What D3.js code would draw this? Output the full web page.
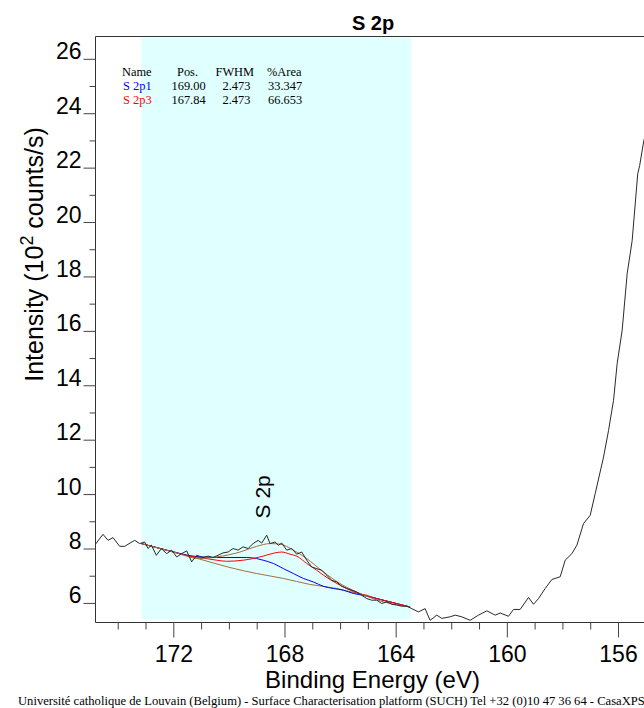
<!DOCTYPE html>
<html>
<head>
<meta charset="utf-8">
<script src="https://cdn.jsdelivr.net/npm/d3@7/dist/d3.min.js"></script>
<style>
  html, body { margin: 0; padding: 0; background: #fff; }
  svg { display: block; }
</style>
</head>
<body>
<script>
// ---------------- DATA ----------------
const title = "S 2p";
const xLabel = "Binding Energy (eV)";
const footer = "Université catholique de Louvain (Belgium) - Surface Characterisation platform (SUCH) Tel +32 (0)10 47 36 64 - CasaXPS";

const xMajorTicks = [172, 168, 164, 160, 156];
const xMinorTicks = [174, 173, 171, 170, 169, 167, 166, 165, 163, 162, 161, 159, 158, 157];
const yMajorTicks = [6, 8, 10, 12, 14, 16, 18, 20, 22, 24, 26];
const yMinorTicks = [7, 9, 11, 13, 15, 17, 19, 21, 23, 25];

const regionRange = [173.15, 163.44];

// measured spectrum (binding energy, eV) and intensity (10^2 counts/s)
const spectrumE = [174.83,174.53,174.35,174.17,173.93,173.75,173.39,173.21,173.03,172.91,172.79,172.61,172.43,172.24,172.06,171.88,171.70,171.52,171.34,171.16,170.93,170.75,170.57,170.39,170.21,170.03,169.85,169.67,169.49,169.31,169.13,168.95,168.82,168.64,168.52,168.34,168.22,168.10,167.92,167.74,167.56,167.38,167.20,167.02,166.84,166.66,166.48,166.30,166.12,165.94,165.76,165.58,165.40,165.22,165.04,164.86,164.68,164.50,164.32,164.14,163.96,163.78,163.60,163.42,163.18,162.94,162.76,162.52,162.34,162.04,161.86,161.62,161.32,161.02,160.72,160.42,160.24,159.94,159.76,159.52,159.22,159.04,158.86,158.62,158.38,158.08,157.90,157.66,157.48,157.24,157.00,156.82,156.52,156.34,156.16,156.03,155.85,155.67,155.49,155.29,155.22,155.08,154.95];
const spectrumI = [8.12,8.52,8.30,8.40,8.08,8.08,8.30,8.18,8.24,8.00,8.12,7.75,8.00,7.81,7.94,7.69,7.81,7.91,7.51,7.75,7.67,7.72,7.67,7.75,7.84,7.87,8.00,7.94,8.06,8.00,8.18,8.30,8.20,8.49,8.18,8.24,8.12,8.20,7.94,8.00,7.79,7.87,7.57,7.32,7.26,7.20,7.02,6.83,6.77,6.61,6.53,6.47,6.40,6.28,6.16,6.10,6.10,5.98,6.04,5.95,5.92,5.88,5.88,5.79,5.67,5.79,5.36,5.55,5.43,5.49,5.55,5.49,5.36,5.55,5.71,5.55,5.63,5.51,5.76,5.76,6.20,5.95,6.16,6.53,6.86,6.96,7.57,7.81,8.12,8.92,9.22,10.02,11.36,12.34,13.45,14.80,16.02,18.10,19.32,21.77,22.08,22.94,23.5];

// background
const backgroundE = [173.15,172.00,171.05,169.96,169.00,168.04,167.09,166.12,165.40,164.68,163.48];
const backgroundI = [8.18,7.87,7.61,7.30,7.08,6.90,6.68,6.53,6.35,6.16,5.85];

// envelope
const envelopeE = [173.15,172.00,171.05,170.44,169.60,169.00,168.52,168.16,167.68,167.20,166.60,166.00,165.40,164.44,163.48];
const envelopeI = [8.18,7.87,7.63,7.69,7.87,8.08,8.18,8.16,7.94,7.63,7.14,6.71,6.40,6.04,5.85];

// S 2p1 component (blue)
const s2p1E = [173.15,172.00,171.65,171.29,170.93,170.44,169.96,169.36,169.00,168.77,168.40,168.04,167.68,167.32,166.96,166.60,166.24,165.89,165.53,165.17,164.68,163.48];
const s2p1I = [8.18,7.88,7.79,7.72,7.69,7.67,7.67,7.67,7.63,7.57,7.45,7.26,7.08,6.90,6.77,6.61,6.53,6.47,6.35,6.28,6.16,5.85];

// S 2p3 component (red)
const s2p3E = [173.15,172.00,171.41,171.05,170.44,170.08,169.49,169.13,168.77,168.34,168.10,167.80,167.56,167.20,166.84,166.60,166.36,166.00,165.64,165.40,165.04,164.68,164.32,163.48];
const s2p3I = [8.18,7.87,7.72,7.67,7.57,7.53,7.57,7.63,7.72,7.84,7.87,7.79,7.72,7.45,7.20,7.02,6.86,6.65,6.47,6.37,6.28,6.16,6.07,5.85];

const tableHeader = ["Name", "Pos.", "FWHM", "%Area"];
const tableNames = ["S 2p1", "S 2p3"];
const tablePos = ["169.00", "167.84"];
const tableFWHM = ["2.473", "2.473"];
const tableArea = ["33.347", "66.653"];
const tableColors = ["#0000ff", "#ff0000"];

const peakLabel = "S 2p";
const peakLabelE = 168.46;
const peakLabelI = 9.9;

// ---------------- CHART ----------------
const W = 644, H = 708;
const L = 95.5, T = 36.5, R = 644, B = 622.5;

const svg = d3.select("body").append("svg").attr("width", W).attr("height", H);

const x = d3.scaleLinear().domain([174.8, 155.05]).range([L, R + 0.4]);
const y = d3.scaleLinear().domain([5.28, 26.82]).range([B, T]);

svg.append("defs").append("clipPath").attr("id", "clip")
  .append("rect").attr("x", L).attr("y", T).attr("width", R - L).attr("height", B - T);

const plot = svg.append("g").attr("clip-path", "url(#clip)");

// region
plot.append("rect")
  .attr("x", x(regionRange[0])).attr("y", T + 1)
  .attr("width", x(regionRange[1]) - x(regionRange[0]))
  .attr("height", B - T - 4)
  .attr("fill", "#e0ffff");

const mk = (E, I) => E.map((e, i) => [e, I[i]]);
const smooth = d3.line().x(d => x(d[0])).y(d => y(d[1])).curve(d3.curveMonotoneX);
const straight = d3.line().x(d => x(d[0])).y(d => y(d[1]));

plot.append("path").datum(mk(backgroundE, backgroundI)).attr("d", smooth)
  .attr("fill", "none").attr("stroke", "#a0703c").attr("stroke-width", 1);
plot.append("path").datum(mk(s2p1E, s2p1I)).attr("d", smooth)
  .attr("fill", "none").attr("stroke", "#0000ff").attr("stroke-width", 1);
plot.append("path").datum(mk(s2p3E, s2p3I)).attr("d", smooth)
  .attr("fill", "none").attr("stroke", "#ff0000").attr("stroke-width", 1);
plot.append("path").datum(mk(envelopeE, envelopeI)).attr("d", smooth)
  .attr("fill", "none").attr("stroke", "#a0703c").attr("stroke-width", 1);
plot.append("path").datum(mk(spectrumE, spectrumI)).attr("d", straight)
  .attr("fill", "none").attr("stroke", "#2a2a2a").attr("stroke-width", 1);

// frame
svg.append("line").attr("x1", L).attr("x2", L).attr("y1", T).attr("y2", B).attr("stroke", "#333");
svg.append("line").attr("x1", L).attr("x2", R).attr("y1", T).attr("y2", T).attr("stroke", "#333");
svg.append("line").attr("x1", L).attr("x2", R).attr("y1", B).attr("y2", B).attr("stroke", "#333");

// axes
const font = "'Liberation Sans', Arial, sans-serif";
const xMajor = svg.append("g").attr("transform", `translate(0,${B})`)
  .call(d3.axisBottom(x).tickValues(xMajorTicks).tickSize(15).tickPadding(8).tickFormat(d3.format("d")));
const xMinor = svg.append("g").attr("transform", `translate(0,${B})`)
  .call(d3.axisBottom(x).tickValues(xMinorTicks).tickSize(7).tickFormat(""));
const yMajor = svg.append("g").attr("transform", `translate(${L},0)`)
  .call(d3.axisLeft(y).tickValues(yMajorTicks).tickSize(12).tickPadding(2).tickFormat(d3.format("d")));
const yMinor = svg.append("g").attr("transform", `translate(${L},0)`)
  .call(d3.axisLeft(y).tickValues(yMinorTicks).tickSize(6).tickFormat(""));
[xMajor, xMinor, yMajor, yMinor].forEach(g => {
  g.select(".domain").remove();
  g.selectAll(".tick line").attr("stroke", "#444");
  g.selectAll("text").attr("font-family", font).attr("font-size", 23).attr("fill", "#000");
});
yMajor.selectAll("text").attr("dy", "0");

// title
svg.append("text").attr("x", 373).attr("y", 30).attr("text-anchor", "middle")
  .attr("font-family", font).attr("font-weight", "bold").attr("font-size", 20).text(title);

// x label
svg.append("text").attr("x", 372.5).attr("y", 687.5).attr("text-anchor", "middle")
  .attr("font-family", font).attr("font-size", 24).text(xLabel);

// y label
const yl = svg.append("text").attr("transform", "translate(43,254.5) rotate(-90)")
  .attr("text-anchor", "middle").attr("font-family", font).attr("font-size", 25);
yl.append("tspan").text("Intensity (10");
yl.append("tspan").attr("dy", -10).attr("font-size", 18).text("2");
yl.append("tspan").attr("dy", 10).text(" counts/s)");

// peak label
svg.append("text")
  .attr("transform", `translate(${x(peakLabelE) - 2},${y(peakLabelI)}) rotate(-90)`)
  .attr("text-anchor", "middle").attr("font-family", font).attr("font-size", 21).text(peakLabel);

// table
const serif = "'Liberation Serif', 'Times New Roman', serif";
const colX = [122, 177, 215.5, 267];
const colXv = [123, 171.5, 222.5, 268];
const tbl = svg.append("g").attr("font-family", serif).attr("font-size", 12.4);
tableHeader.forEach((h, i) => tbl.append("text").attr("x", colX[i]).attr("y", 75.5).text(h));
tableNames.forEach((n, r) => {
  const yy = 89.5 + r * 14;
  tbl.append("text").attr("x", colXv[0]).attr("y", yy).attr("fill", tableColors[r]).text(n);
  tbl.append("text").attr("x", colXv[1]).attr("y", yy).text(tablePos[r]);
  tbl.append("text").attr("x", colXv[2]).attr("y", yy).text(tableFWHM[r]);
  tbl.append("text").attr("x", colXv[3]).attr("y", yy).text(tableArea[r]);
});

// footer
svg.append("text").attr("x", 18).attr("y", 705).attr("font-family", serif).attr("font-size", 12.6)
  .text(footer);
</script>
</body>
</html>
